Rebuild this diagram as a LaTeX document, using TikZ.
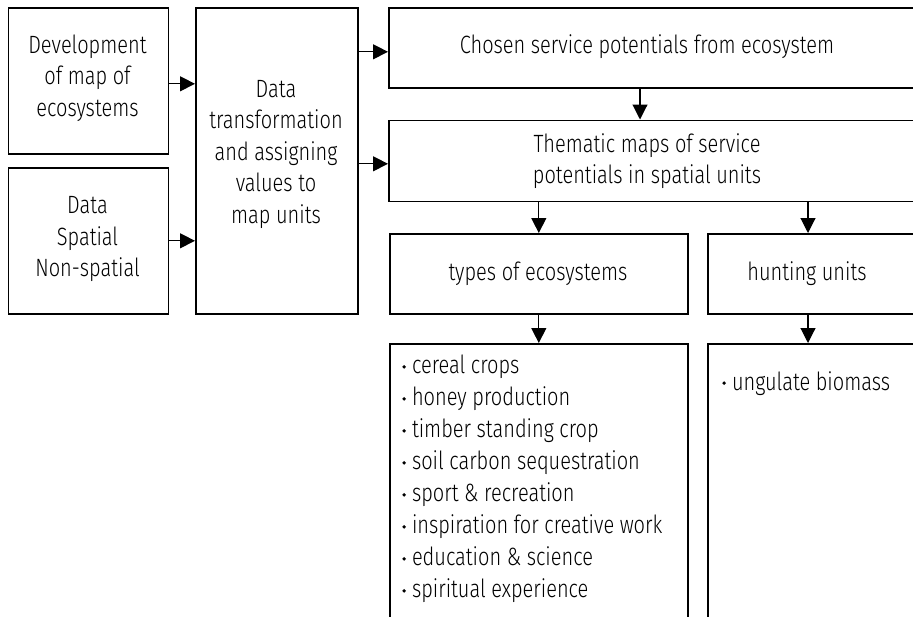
\documentclass[tikz,border=0pt]{standalone}
\usepackage{fontspec}
\setmainfont{Fira Sans Light}[FakeStretch=0.8]
\usetikzlibrary{arrows.meta,calc}
\begin{document}
\begin{tikzpicture}[x=1pt,y=-1pt,
  box/.style={draw=black,line width=1.6pt,inner sep=0pt,anchor=north west},
  txt/.style={align=center,inner sep=0pt,font=\fontsize{25}{31.5}\selectfont},
  lst/.style={align=left,inner sep=0pt,anchor=north west,font=\fontsize{25}{32}\selectfont},
  arr/.style={line width=1.1pt,-{Triangle[length=15pt,width=15pt]}}]
\useasboundingbox (0,0) rectangle (913,616);
\newcommand\bul{\raisebox{5pt}{\tikz\fill (0,0) circle (1.9pt);}\hspace{6pt}}
% left column
\node[box,minimum width=160,minimum height=146] (dev) at (7.5,7) {};
\node[txt] (devT) at (87.5,78) {Development\\of map of\\ecosystems};
\node[box,minimum width=160,minimum height=146] (data) at (7.5,167) {};
\node[txt] (dataT) at (87.5,239) {Data\\Spatial\\Non-spatial};
% transformation
\node[box,minimum width=162,minimum height=306] (tr) at (195,7) {};
\node[txt] (trT) at (276,154) {Data\\transformation\\and assigning\\values to\\map units};
% right
\node[box,minimum width=540,minimum height=80] (ch) at (388,7) {};
\node[txt] (chT) at (647,47) {Chosen service potentials from ecosystem};
\node[box,minimum width=540,minimum height=81] (th) at (388,119.5) {};
\node[txt] (thT) at (647,161) {Thematic maps of service\\potentials in spatial units};
\node[box,minimum width=298,minimum height=80] (ty) at (389,233) {};
\node[txt] (tyT) at (538,274) {types of ecosystems};
\node[box,minimum width=230,minimum height=80] (hu) at (707,233) {};
\node[txt] (huT) at (807,274) {hunting units};
\node[box,minimum width=298,minimum height=300] (li) at (389,343) {};
\node[lst] (liT) at (402,355) {\bul cereal crops\\\bul honey production\\\bul timber standing crop\\\bul soil carbon sequestration\\\bul sport \& recreation\\\bul inspiration for creative work\\\bul education \& science\\\bul spiritual experience};
\node[box,minimum width=230,minimum height=300] (ug) at (707,343) {};
\node[lst] (ugT) at (722,371) {\bul ungulate biomass};
% connector end points
\coordinate (huTop) at ($(hu.north west)+(101,0)$);
\coordinate (huBot) at ($(hu.south west)+(101,0)$);
\coordinate (ugTop) at ($(ug.north west)+(101,0)$);
\coordinate (chBot) at ($(ch.south west)+(252,0)$);
\coordinate (thTop) at ($(th.north west)+(252,0)$);
% arrows
\draw[arr] ($(dev.east)+(0,3)$) -- ($(tr.west)+(0,-77)$);
\draw[arr] (data.east) -- (data.east -| tr.west);
\draw[arr] ($(tr.east)+(0,-109)$) -- ($(ch.west)+(0,4)$);
\draw[arr] ($(tr.east)+(0,3)$) -- ($(th.west)+(0,3)$);
\draw[arr] (chBot) -- (thTop);
\draw[arr] (ty.north |- th.south) -- (ty.north);
\draw[arr] (huTop |- th.south) -- (huTop);
\draw[arr] (ty.south) -- (li.north);
\draw[arr] (huBot) -- (ugTop);
\end{tikzpicture}
\end{document}
